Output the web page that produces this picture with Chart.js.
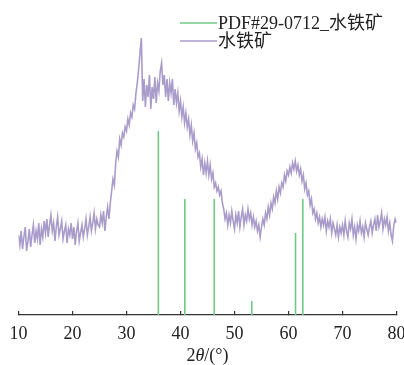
<!DOCTYPE html>
<html>
<head>
<meta charset="utf-8">
<script src="https://cdn.jsdelivr.net/npm/chart.js@4"></script>
<style>
  body { margin: 0; background: #fff; }
  canvas { display: block; }
</style>
</head>
<body>
<canvas id="xrd-chart" width="404" height="365"></canvas>
<script>
// 2theta grid of the scan (degrees)
var twoThetaStart = 10;
var twoThetaStep = 0.25;

var intensity = [
  80, 70, 84, 66, 78, 88, 64, 74, 86, 68, 80, 90, 72, 84, 76, 92, 70, 86, 78, 94,
  82, 96, 78, 90, 100, 84, 92, 74, 88, 98, 80, 86, 94, 76, 84, 90, 72, 86, 80, 92,
  76, 88, 70, 84, 92, 74, 82, 90, 78, 86, 96, 80, 88, 98, 84, 92, 102, 86, 96, 90,
  88, 100, 92, 104, 84, 98, 108, 96, 112, 124, 136, 130, 152, 164, 158, 176, 170, 182, 178, 188,
  184, 196, 190, 202, 198, 210, 206, 222, 232, 246, 262, 277, 214, 236, 208, 230, 218, 240, 206, 228,
  216, 238, 212, 232, 224, 244, 252, 230, 240, 218, 236, 214, 232, 222, 236, 210, 226, 212, 222, 204,
  214, 198, 208, 192, 202, 188, 196, 180, 190, 174, 182, 166, 172, 158, 162, 148, 156, 140, 152, 142,
  154, 140, 150, 136, 142, 128, 132, 124, 128, 120, 124, 112, 106, 96, 102, 90, 100, 92, 104, 94,
  86, 100, 92, 104, 88, 98, 106, 90, 100, 94, 106, 96, 102, 90, 98, 88, 94, 84, 90, 78,
  88, 96, 90, 102, 96, 108, 100, 112, 106, 118, 112, 124, 116, 128, 122, 132, 128, 140, 134, 144,
  140, 148, 142, 152, 146, 154, 144, 150, 140, 146, 134, 140, 126, 132, 120, 124, 110, 116, 102, 106,
  96, 102, 92, 98, 88, 96, 90, 98, 84, 94, 88, 96, 82, 92, 86, 80, 90, 78, 88, 82,
  90, 80, 94, 84, 78, 92, 86, 96, 80, 88, 76, 90, 84, 94, 82, 88, 78, 92, 86, 80,
  88, 94, 82, 90, 96, 84, 100, 88, 94, 102, 86, 96, 90, 98, 84, 92, 80, 74, 90, 96,
  92
];

// reference card PDF#29-0712 sticks
var pdfPeaks = [35.9, 40.8, 46.25, 53.2, 61.3, 62.65];
var pdfHeights = [184, 116, 116, 14, 82, 116];

var xTicks = [10, 20, 30, 40, 50, 60, 70, 80];
var seriesNames = ['PDF#29-0712_水铁矿', '水铁矿'];
var seriesColors = ['#72c987', '#a99cca'];

var FONT = '"Liberation Serif", "Times New Roman", "Noto Sans CJK SC", serif';

var scanPoints = intensity.map(function(v, i) {
  return { x: twoThetaStart + i * twoThetaStep, y: v };
});

var stickPoints = [];
pdfPeaks.forEach(function(p, i) {
  stickPoints.push({ x: p, y: 0 }, { x: p, y: pdfHeights[i] }, { x: p, y: null });
});

// legend in the top right + x title with italic theta
var extrasPlugin = {
  id: 'extras',
  afterDraw: function(chart) {
    var ctx = chart.ctx;
    ctx.save();
    ctx.font = '18px ' + FONT;
    ctx.textBaseline = 'middle';
    ctx.textAlign = 'left';
    var rows = [23, 41];
    seriesNames.forEach(function(name, i) {
      ctx.strokeStyle = seriesColors[i];
      ctx.lineWidth = 1.5;
      ctx.beginPath();
      ctx.moveTo(180, rows[i]);
      ctx.lineTo(217, rows[i]);
      ctx.stroke();
      ctx.fillStyle = '#222';
      ctx.fillText(name, 218, rows[i] + 1);
    });

    // axis title: 2θ/(°)
    var parts = [['2', ''], ['θ', 'italic '], ['/(°)', '']];
    var total = 0;
    parts.forEach(function(p) {
      ctx.font = p[1] + '18px ' + FONT;
      total += ctx.measureText(p[0]).width;
    });
    var area = chart.chartArea;
    var x = (area.left + area.right) / 2 - total / 2;
    ctx.textBaseline = 'alphabetic';
    ctx.fillStyle = '#222';
    parts.forEach(function(p) {
      ctx.font = p[1] + '18px ' + FONT;
      ctx.fillText(p[0], x, 361);
      x += ctx.measureText(p[0]).width;
    });
    ctx.restore();
  }
};

new Chart(document.getElementById('xrd-chart'), {
  type: 'line',
  data: {
    datasets: [{
      label: seriesNames[1],
      data: scanPoints,
      borderColor: seriesColors[1],
      borderWidth: 1.6,
      pointRadius: 0,
      tension: 0
    }, {
      label: seriesNames[0],
      data: stickPoints,
      borderColor: seriesColors[0],
      borderWidth: 1.6,
      pointRadius: 0,
      spanGaps: false
    }]
  },
  options: {
    responsive: false,
    animation: false,
    layout: {
      padding: { top: 25, left: 18.5, right: 7.5, bottom: 8.4 }
    },
    plugins: {
      legend: { display: false },
      tooltip: { enabled: false }
    },
    scales: {
      x: {
        type: 'linear',
        min: 10,
        max: 80,
        afterBuildTicks: function(scale) {
          scale.ticks = xTicks.map(function(v) { return { value: v }; });
        },
        // let the 80 label run to the edge like the original
        afterFit: function(scale) {
          scale.paddingLeft = 0;
          scale.paddingRight = 0;
        },
        ticks: {
          font: { family: FONT, size: 18 },
          color: '#222',
          padding: 12,
          maxRotation: 0
        },
        grid: {
          drawOnChartArea: false,
          drawTicks: true,
          tickLength: -4,
          color: '#333',
          lineWidth: 1.2
        },
        border: { display: true, color: '#333', width: 1.3 }
      },
      y: {
        display: false,
        min: 0,
        max: 290
      }
    }
  },
  plugins: [extrasPlugin]
});
</script>
</body>
</html>
